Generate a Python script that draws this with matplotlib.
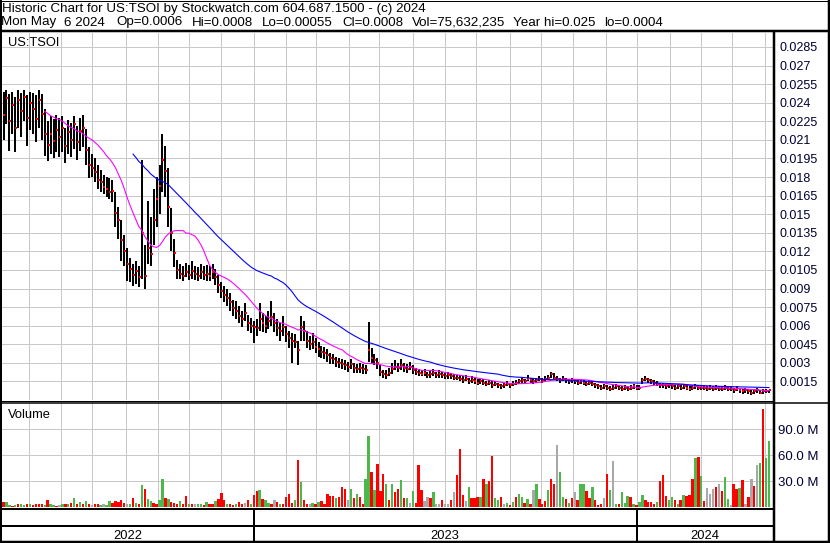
import numpy as np
import pandas as pd
import matplotlib
matplotlib.use("Agg")
import matplotlib.pyplot as plt

plt.rcParams['font.family'] = ['Liberation Sans', 'DejaVu Sans']

W, H = 830, 543

# ---------------- data ----------------
# prices in units of 0.00001 (one bar = two trading days), volume in millions
close = [2300, 2440, 2250, 2380, 2200, 2420, 2330, 2450, 2280, 2400,
         2350, 2270, 2420, 2310, 2150, 2060, 2150, 2090, 2180, 2120,
         2200, 2050, 2160, 2100, 2230, 2080, 2170, 2200, 2020, 1900,
         1870, 1840, 1780, 1760, 1720, 1700, 1680, 1690, 1510, 1450,
         1290, 1200, 1100, 1060, 1010, 1040, 990, 1350, 1000, 1230,
         1180, 1450, 1620, 1730, 1940, 1850, 1560, 1350, 1190, 1050,
         1020, 1000, 1030, 1010, 1040, 1020, 1000, 1030, 1010, 1020,
         1000, 1030, 990, 930, 880, 850, 820, 790, 740, 720,
         680, 650, 700, 620, 600, 590, 580, 650, 620, 600,
         640, 670, 620, 580, 560, 590, 530, 500, 480, 470,
         400, 590, 560, 480, 450, 470, 430, 410, 390, 380,
         360, 340, 330, 310, 300, 290, 280, 270, 290, 260,
         250, 260, 250, 240, 400, 340, 320, 300, 230, 210,
         200, 220, 250, 270, 260, 280, 260, 250, 270, 240,
         230, 220, 210, 220, 200, 210, 220, 200, 210, 200,
         190, 200, 190, 180, 180, 170, 160, 170, 150, 160,
         150, 140, 150, 140, 130, 140, 120, 130, 120, 110,
         120, 130, 120, 130, 140, 150, 160, 150, 170, 160,
         150, 160, 170, 160, 170, 180, 210, 180, 170, 160,
         170, 160, 150, 160, 150, 140, 150, 140, 130, 140,
         130, 120, 110, 100, 110, 100, 90, 100, 110, 100,
         90, 100, 90, 100, 110, 100, 100, 160, 170, 160,
         150, 140, 130, 120, 120, 110, 120, 110, 100, 110,
         100, 110, 100, 90, 100, 110, 100, 100, 100, 90,
         100, 90, 100, 90, 90, 100, 90, 90, 80, 90,
         80, 70, 80, 70, 60, 70, 80, 60, 70, 70, 80]

high = [2490, 2500, 2470, 2490, 2450, 2500, 2480, 2500, 2460, 2490,
        2480, 2460, 2500, 2470, 2350, 2250, 2290, 2270, 2300, 2280,
        2290, 2200, 2260, 2240, 2290, 2210, 2280, 2300, 2190, 2040,
        1990, 1950, 1900, 1860, 1820, 1800, 1790, 1780, 1680, 1560,
        1450, 1330, 1230, 1150, 1100, 1120, 1080, 1940, 1250, 1610,
        1480, 1700, 1800, 1900, 2150, 2050, 1870, 1550, 1300, 1130,
        1100, 1080, 1110, 1090, 1120, 1080, 1070, 1100, 1080, 1090,
        1080, 1100, 1060, 1010, 950, 920, 900, 860, 810, 800,
        760, 720, 780, 690, 660, 640, 650, 780, 700, 680,
        720, 800, 700, 650, 620, 680, 600, 560, 540, 530,
        480, 680, 640, 560, 520, 540, 500, 470, 440, 430,
        410, 380, 370, 350, 340, 330, 320, 310, 330, 300,
        290, 300, 290, 280, 630, 420, 370, 340, 280, 240,
        240, 260, 300, 320, 300, 330, 300, 290, 310, 280,
        260, 250, 240, 250, 230, 240, 250, 230, 240, 230,
        220, 230, 220, 210, 200, 200, 190, 200, 180, 190,
        180, 170, 170, 170, 150, 160, 150, 150, 140, 130,
        140, 150, 140, 150, 160, 170, 180, 170, 200, 180,
        170, 180, 190, 180, 190, 200, 230, 220, 190, 180,
        190, 180, 170, 180, 170, 160, 170, 160, 150, 160,
        150, 140, 130, 120, 130, 120, 110, 120, 130, 120,
        110, 120, 110, 120, 130, 120, 120, 180, 190, 180,
        170, 160, 150, 140, 140, 130, 140, 130, 120, 130,
        120, 130, 120, 110, 120, 130, 120, 120, 120, 110,
        120, 110, 120, 110, 110, 120, 110, 110, 100, 110,
        100, 90, 100, 90, 80, 90, 100, 80, 90, 90, 80]

low = [2100, 2230, 2010, 2150, 2000, 2200, 2120, 2250, 2050, 2180,
       2150, 2080, 2200, 2100, 1970, 1930, 1990, 1950, 2000, 1960,
       2000, 1910, 1990, 1960, 2030, 1940, 2010, 2040, 1900, 1790,
       1800, 1760, 1700, 1680, 1660, 1640, 1620, 1600, 1400, 1300,
       1120, 1080, 960, 950, 920, 940, 910, 980, 900, 1100,
       1080, 1250, 1400, 1500, 1680, 1640, 1400, 1200, 1070, 980,
       980, 960, 990, 970, 980, 970, 960, 980, 970, 960,
       960, 980, 930, 860, 820, 790, 760, 720, 680, 650,
       620, 590, 640, 560, 540, 460, 520, 560, 550, 540,
       570, 600, 550, 520, 480, 520, 470, 420, 300, 420,
       280, 480, 480, 420, 400, 410, 380, 350, 340, 330,
       310, 290, 290, 270, 260, 250, 240, 230, 250, 220,
       220, 220, 210, 210, 310, 300, 280, 250, 190, 180,
       170, 190, 210, 240, 230, 240, 230, 220, 240, 210,
       200, 190, 190, 190, 180, 180, 190, 180, 180, 180,
       170, 170, 170, 160, 160, 150, 140, 150, 130, 140,
       130, 120, 130, 120, 110, 120, 100, 110, 100, 90,
       100, 110, 100, 110, 120, 130, 140, 130, 150, 140,
       130, 140, 150, 140, 150, 160, 180, 160, 150, 140,
       150, 140, 130, 140, 130, 120, 130, 120, 110, 120,
       110, 100, 90, 80, 90, 80, 70, 80, 90, 80,
       70, 80, 70, 80, 90, 80, 80, 130, 150, 140,
       130, 120, 110, 100, 100, 90, 100, 90, 80, 90,
       80, 90, 80, 70, 80, 90, 80, 80, 80, 70,
       80, 70, 80, 70, 70, 80, 70, 70, 60, 70,
       60, 50, 60, 50, 40, 50, 60, 45, 50, 55, 55]

volume = [6, 6, 2, 1, 2, 3, 4, 2, 3, 3,
          2, 3, 3, 3, 2, 8, 3, 2, 1, 2,
          3, 4, 3, 5, 10, 4, 6, 4, 7, 3,
          2, 4, 3, 2, 3, 2, 7, 5, 7, 6,
          8, 5, 3, 4, 10, 5, 4, 25, 21, 9,
          7, 5, 3, 8, 32, 10, 9, 6, 5, 4,
          7, 4, 13, 4, 3, 4, 3, 3, 2, 6,
          3, 4, 7, 9, 16, 8, 4, 3, 2, 3,
          6, 3, 5, 8, 4, 14, 19, 20, 9, 8,
          5, 4, 8, 6, 4, 4, 11, 15, 5, 8,
          54, 29, 8, 4, 3, 5, 3, 6, 7, 4,
          15, 13, 13, 10, 12, 23, 21, 8, 21, 10,
          15, 11, 4, 32, 82, 40, 20, 50, 19, 38,
          26, 8, 27, 17, 21, 31, 10, 10, 5, 19,
          5, 49, 20, 7, 12, 10, 17, 4, 4, 8,
          3, 4, 8, 17, 37, 67, 14, 7, 23, 10,
          10, 12, 12, 32, 26, 30, 59, 10, 8, 11,
          3, 5, 2, 6, 12, 15, 12, 5, 9, 4,
          20, 27, 9, 4, 7, 20, 32, 27, 71, 40,
          11, 9, 5, 10, 17, 8, 26, 26, 18, 10,
          23, 8, 2, 4, 10, 38, 20, 53, 4, 3,
          17, 5, 13, 11, 4, 2, 6, 14, 8, 6,
          6, 3, 6, 30, 37, 13, 8, 12, 8, 4,
          8, 14, 13, 14, 32, 56, 58, 36, 7, 22,
          15, 21, 23, 27, 18, 35, 9, 2, 27, 21,
          22, 31, 4, 12, 32, 24, 48, 51, 113, 57, 76]

# r = down day, g = up day, n = unchanged
vol_dir = ("rggrgrggrg rrrrgrggrn grgrgrgrgr nrrgnggrrr rrngrgrgrg "
           "grrggrgrrr grrgrnggrg rrgrrrgrrg rrnrgrrgrg grnrgrrrrg "
           "rgrrngrgrr rrrgrrrngr grrggrgrrr grgrrgrgng rrrnnrgnnr "
           "nnrnrrrngr rrgrgrrggr ngrgrggrgr ngrrrgrrng grgrnrggrr "
           "grrrnrgngr gggrgrggrr rrgrrrggrg rgrrrgrgrn nnrnrggnrr "
           "grnrnrngrgg").replace(" ", "")

price_ticks = [0.0015, 0.003, 0.0045, 0.006, 0.0075, 0.009, 0.0105, 0.012,
               0.0135, 0.015, 0.0165, 0.018, 0.0195, 0.021, 0.0225, 0.024,
               0.0255, 0.027, 0.0285]
price_tick_labels = ["0.0015", "0.003", "0.0045", "0.006", "0.0075", "0.009",
                     "0.0105", "0.012", "0.0135", "0.015", "0.0165", "0.018",
                     "0.0195", "0.021", "0.0225", "0.024", "0.0255", "0.027",
                     "0.0285"]
vol_ticks = [30, 60, 90]
vol_tick_labels = ["30.0 M", "60.0 M", "90.0 M"]
year_labels = ["2022", "2023", "2024"]

title_line = "Historic Chart for US:TSOI by Stockwatch.com 604.687.1500 - (c) 2024"
info_fields = ["Mon May", "6 2024", "Op=0.0006", "Hi=0.0008", "Lo=0.00055",
               "Cl=0.0008", "Vol=75,632,235", "Year hi=0.025", "lo=0.0004"]
info_x = [1, 64, 116, 192, 262, 342, 412, 513, 604]

dates = pd.bdate_range("2022-05-09", "2024-05-06")

# ---------------- figure ----------------
fig = plt.figure(figsize=(W / 100, H / 100), dpi=100)
fig.patch.set_facecolor("white")
PX = 0.72  # points per pixel

def axes_px(x0, y0, x1, y1, **kw):
    return fig.add_axes([x0 / W, 1 - y1 / H, (x1 - x0) / W, (y1 - y0) / H], **kw)

ax = axes_px(2, 33, 773, 400)
axv = axes_px(2, 403, 773, 507)
axb = axes_px(2, 508, 773, 541)

ND = len(dates)
N = len(close)
pos = np.arange(N) * (ND - 1) / (N - 1)
scale = (769 - 3.5) / (ND - 1)
xl = -(3.5 - 2) / scale
xr = xl + (773 - 2) / scale

month_pos = [i for i in range(1, ND) if dates[i].month != dates[i - 1].month]
year_pos = [i for i in range(1, ND) if dates[i].year != dates[i - 1].year]

c = np.array(close) * 1e-5
hi = np.array(high) * 1e-5
lo = np.array(low) * 1e-5

grid_col = "#c8c8c8"
lab_col = "#000033"

# price panel
ax.vlines(pos, lo, hi, color="black", lw=2.0 * PX, zorder=3)
ax.plot(pos + 0.6, c, "s", color="#ff0000", ms=2.6 * PX, mew=0, zorder=4)
ma_short = pd.Series(c).rolling(15).mean()
ma_long = pd.Series(c).rolling(45).mean()
ax.plot(pos, ma_short, color="#ff00ff", lw=1.1 * PX, zorder=5)
ax.plot(pos, ma_long, color="#0000ff", lw=1.1 * PX, zorder=5)
ax.set_xlim(xl, xr)
ax.set_ylim(0, 0.02963)
ax.set_xticks(month_pos)
ax.set_xticklabels([])
ax.tick_params(axis="x", length=0)
ax.yaxis.tick_right()
ax.set_yticks(price_ticks)
ax.set_yticklabels(price_tick_labels, fontsize=9, color=lab_col)
ax.tick_params(axis="y", length=0, pad=6 * PX)
ax.grid(True, color=grid_col, lw=1.0 * PX)
ax.set_axisbelow(True)
for sp in ax.spines.values():
    sp.set_visible(False)

# volume panel
cmap = {"r": "#ff0000", "g": "#4cb84c", "n": "#a8a8a8"}
axv.bar(pos, volume, width=1.6, color=[cmap[k] for k in vol_dir], lw=0, zorder=3)
axv.set_xlim(xl, xr)
axv.set_ylim(0, 120)
axv.set_xticks(month_pos)
axv.set_xticklabels([])
axv.tick_params(axis="x", length=0)
axv.yaxis.tick_right()
axv.set_yticks(vol_ticks)
axv.set_yticklabels(vol_tick_labels, fontsize=9.5, color=lab_col)
axv.tick_params(axis="y", length=0, pad=5 * PX)
axv.grid(True, color=grid_col, lw=1.0 * PX)
axv.set_axisbelow(True)
for sp in axv.spines.values():
    sp.set_visible(False)

# bottom date band
axb.set_xlim(xl, xr)
axb.set_ylim(0, 1)
axb.axis("off")
axb.vlines(year_pos, 0, 1, color="black", lw=2 * PX)
bounds = [xl] + year_pos + [xr]
for k, lab in enumerate(year_labels):
    axb.text((bounds[k] + bounds[k + 1]) / 2, 0.07, lab, ha="center",
             va="baseline", fontsize=9.3, color="black")

# frame overlay in pixel coordinates
fa = fig.add_axes([0, 0, 1, 1], zorder=10)
fa.set_xlim(0, W)
fa.set_ylim(H, 0)
fa.axis("off")
def hline(y, x0, x1, w):
    fa.plot([x0, x1], [y, y], color="black", lw=w * PX, solid_capstyle="butt")
def vline(x, y0, y1, w):
    fa.plot([x, x], [y0, y1], color="black", lw=w * PX, solid_capstyle="butt")

vline(1, 0, H, 2)
vline(828.5, 0, H, 2.5)
hline(0.5, 0, W, 1)
hline(31, 0, W, 2.5)
vline(774, 31, 542, 2.5)
hline(400.5, 0, 774, 1)
hline(402.5, 0, W, 1.5)
hline(508.5, 0, 774, 2)
hline(526, 0, 774, 2)
hline(541.5, 0, W, 2.5)

fa.text(2, 12, title_line, fontsize=9.6, va="baseline", ha="left", color="black")
for t, x in zip(info_fields, info_x):
    fa.text(x, 25.5, t, fontsize=9.6, va="baseline", ha="left", color="black")
fa.text(8, 46.5, "US:TSOI", fontsize=9.3, va="baseline", ha="left", color="black")
fa.text(8, 418, "Volume", fontsize=9.3, va="baseline", ha="left", color="black")

fig.savefig("out.png", dpi=100, facecolor="white")
